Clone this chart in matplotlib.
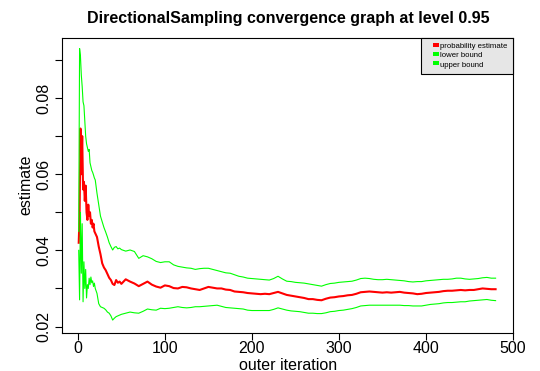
import matplotlib
matplotlib.use("Agg")
import matplotlib.pyplot as plt
from matplotlib.patches import Rectangle

plt.rcParams['font.family'] = ['Liberation Sans', 'DejaVu Sans']

# outer iteration index
iterations = [1, 2, 3, 4, 5, 6, 7, 8, 9, 10, 11, 12, 13, 14, 15, 16, 17, 18, 19, 20,
              22, 24, 26, 28, 30, 32, 34, 36, 38, 40, 42, 44, 46, 48, 50,
              55, 60, 65, 70, 75, 80, 85, 90, 95, 100, 105, 110, 115, 120, 125,
              130, 135, 140, 145, 150, 155, 160, 165, 170, 175, 180, 185, 190, 195,
              200, 205, 210, 215, 220, 225, 230, 235, 240, 245, 250, 255, 260, 265,
              270, 275, 280, 285, 290, 295, 300, 305, 310, 315, 320, 325, 330, 335,
              340, 345, 350, 355, 360, 365, 370, 375, 380, 385, 390, 395, 400, 405,
              410, 415, 420, 425, 430, 435, 440, 445, 450, 455, 460, 465, 470, 475, 480]

probability_estimate = [
    0.042, 0.049, 0.072, 0.060, 0.070, 0.056, 0.058, 0.053, 0.057, 0.050,
    0.048, 0.052, 0.049, 0.050, 0.047, 0.048, 0.046, 0.047, 0.045, 0.0445,
    0.0435, 0.041, 0.039, 0.0366, 0.0355, 0.0348, 0.0338, 0.0328, 0.0322, 0.0312,
    0.0309, 0.0322, 0.0315, 0.0318, 0.0312,
    0.0324, 0.0318, 0.0313, 0.0306, 0.0312, 0.0318, 0.0310, 0.0305, 0.0302, 0.0308,
    0.0306, 0.0301, 0.0300, 0.0304, 0.0303, 0.0300, 0.0298, 0.0296, 0.0300, 0.0304,
    0.0302, 0.0300, 0.0300, 0.0297, 0.0296, 0.0292, 0.0291, 0.0290, 0.0288, 0.0287,
    0.0286, 0.0285, 0.0286, 0.0285, 0.0288, 0.0291, 0.0287, 0.0283, 0.0281, 0.0279,
    0.0277, 0.0275, 0.0272, 0.0272, 0.0270, 0.0269, 0.0273, 0.0276, 0.0277, 0.0279,
    0.0280, 0.0282, 0.0283, 0.0286, 0.0290, 0.0291, 0.0292, 0.0291, 0.0290, 0.0289,
    0.0290, 0.0289, 0.0290, 0.0291, 0.0289, 0.0288, 0.0287, 0.0285, 0.0286, 0.0288,
    0.0289, 0.0290, 0.0291, 0.0293, 0.0294, 0.0294, 0.0295, 0.0296, 0.0295, 0.0296,
    0.0296, 0.0298, 0.0300, 0.0299, 0.0298, 0.0298]

lower_bound = [
    0.040, 0.027, 0.050, 0.034, 0.047, 0.0265, 0.037, 0.030, 0.035, 0.0275,
    0.031, 0.030, 0.0327, 0.031, 0.033, 0.0315, 0.032, 0.0305, 0.0314, 0.030,
    0.0287, 0.026, 0.0252, 0.0250, 0.0248, 0.0244, 0.0238, 0.0235, 0.0228, 0.0217,
    0.0222, 0.0226, 0.0228, 0.0230, 0.0232,
    0.0235, 0.0238, 0.0236, 0.0235, 0.0240, 0.0246, 0.0244, 0.0243, 0.0248, 0.0247,
    0.0248, 0.0250, 0.0252, 0.0250, 0.0249, 0.0250, 0.0252, 0.0252, 0.0253, 0.0254,
    0.0255, 0.0256, 0.0253, 0.0250, 0.0249, 0.0248, 0.0247, 0.0246, 0.0243, 0.0242,
    0.0242, 0.0242, 0.0242, 0.0242, 0.0245, 0.0249, 0.0246, 0.0243, 0.0241, 0.0240,
    0.0239, 0.0237, 0.0235, 0.0235, 0.0234, 0.0234, 0.0236, 0.0239, 0.0240, 0.0242,
    0.0243, 0.0245, 0.0247, 0.0250, 0.0254, 0.0255, 0.0256, 0.0256, 0.0256, 0.0256,
    0.0256, 0.0256, 0.0256, 0.0256, 0.0255, 0.0255, 0.0254, 0.0254, 0.0254, 0.0256,
    0.0258, 0.0259, 0.0260, 0.0262, 0.0263, 0.0263, 0.0264, 0.0265, 0.0265, 0.0267,
    0.0268, 0.0269, 0.0270, 0.0271, 0.0269, 0.0268]

upper_bound = [
    0.045, 0.093, 0.091, 0.086, 0.083, 0.079, 0.078, 0.074, 0.070, 0.068,
    0.067, 0.066, 0.0665, 0.063, 0.062, 0.061, 0.0605, 0.0598, 0.059, 0.0585,
    0.055, 0.052, 0.049, 0.0475, 0.046, 0.0448, 0.0435, 0.042, 0.041, 0.0401,
    0.0408, 0.041, 0.0404, 0.0406, 0.0402,
    0.0398, 0.0401, 0.0397, 0.0379, 0.0386, 0.0383, 0.0378, 0.0371, 0.0368, 0.0370,
    0.0370, 0.0362, 0.0358, 0.0356, 0.0354, 0.0353, 0.0350, 0.0352, 0.0353, 0.0353,
    0.0350, 0.0347, 0.0344, 0.0341, 0.0340, 0.0336, 0.0332, 0.0330, 0.0327, 0.0326,
    0.0325, 0.0324, 0.0323, 0.0322, 0.0326, 0.0332, 0.0325, 0.0319, 0.0318, 0.0316,
    0.0315, 0.0314, 0.0312, 0.0310, 0.0308, 0.0306, 0.0310, 0.0313, 0.0314, 0.0316,
    0.0317, 0.0318, 0.0319, 0.0322, 0.0326, 0.0327, 0.0326, 0.0324, 0.0323, 0.0323,
    0.0324, 0.0323, 0.0322, 0.0321, 0.0320, 0.0318, 0.0317, 0.0318, 0.0318, 0.0320,
    0.0321, 0.0322, 0.0323, 0.0324, 0.0324, 0.0325, 0.0327, 0.0327, 0.0325, 0.0324,
    0.0325, 0.0326, 0.0328, 0.0329, 0.0327, 0.0327]

x_ticks = [0, 100, 200, 300, 400, 500]
y_ticks = [0.02, 0.03, 0.04, 0.05, 0.06, 0.07, 0.08, 0.09]
y_tick_labels = ["0.02", "", "0.04", "", "0.06", "", "0.08", ""]

legend_labels = ["probability estimate", "lower bound", "upper bound"]
legend_colors = ["#ff0000", "#00ff00", "#00ff00"]

W, H = 540, 371


def fx(x):
    return x / W


def fy(y):
    return 1 - y / H


fig = plt.figure(figsize=(5.4, 3.71), dpi=100)
ax = fig.add_axes([fx(62), fy(333), 451 / W, 295.5 / H])

ax.plot(iterations, probability_estimate, color="#ff0000", lw=1.5)
ax.plot(iterations, lower_bound, color="#00ff00", lw=0.8)
ax.plot(iterations, upper_bound, color="#00ff00", lw=0.8)

ax.set_xlim(-18.2, 499.2)
ax.set_ylim(0.0183, 0.0959)
ax.set_xticks(x_ticks)
ax.set_yticks(y_ticks)
ax.set_yticklabels(y_tick_labels, rotation=90, va="center")
ax.tick_params(length=5, width=0.8, labelsize=11.5, pad=1)
ax.tick_params(axis="y", pad=2.5)
for s in ax.spines.values():
    s.set_linewidth(0.8)

fig.text(fx(288), fy(19), "DirectionalSampling convergence graph at level 0.95",
         ha="center", va="center", fontsize=11.5, fontweight="bold")
fig.text(fx(288), fy(365), "outer iteration", ha="center", va="center", fontsize=11.5)
fig.text(fx(26), fy(185), "estimate", ha="center", va="center", fontsize=11.5,
         rotation=90)

# legend box in the R style: wide left margin, swatches on the text's upper half
fig.patches.append(Rectangle((fx(421), fy(74)), (513 - 421) / W, (74 - 37.5) / H,
                             transform=fig.transFigure, facecolor="#e6e6e6",
                             edgecolor="#000000", lw=0.8, zorder=5))
for i, (lab, col) in enumerate(zip(legend_labels, legend_colors)):
    yc = 46.7 + i * 9.2
    fig.patches.append(Rectangle((fx(433.3), fy(yc)), 6 / W, 3.6 / H,
                                 transform=fig.transFigure, facecolor=col,
                                 edgecolor="none", zorder=6))
    fig.text(fx(440.5), fy(yc), lab, ha="left", va="center", fontsize=5.6, zorder=6)

fig.savefig("out.png", dpi=100)
